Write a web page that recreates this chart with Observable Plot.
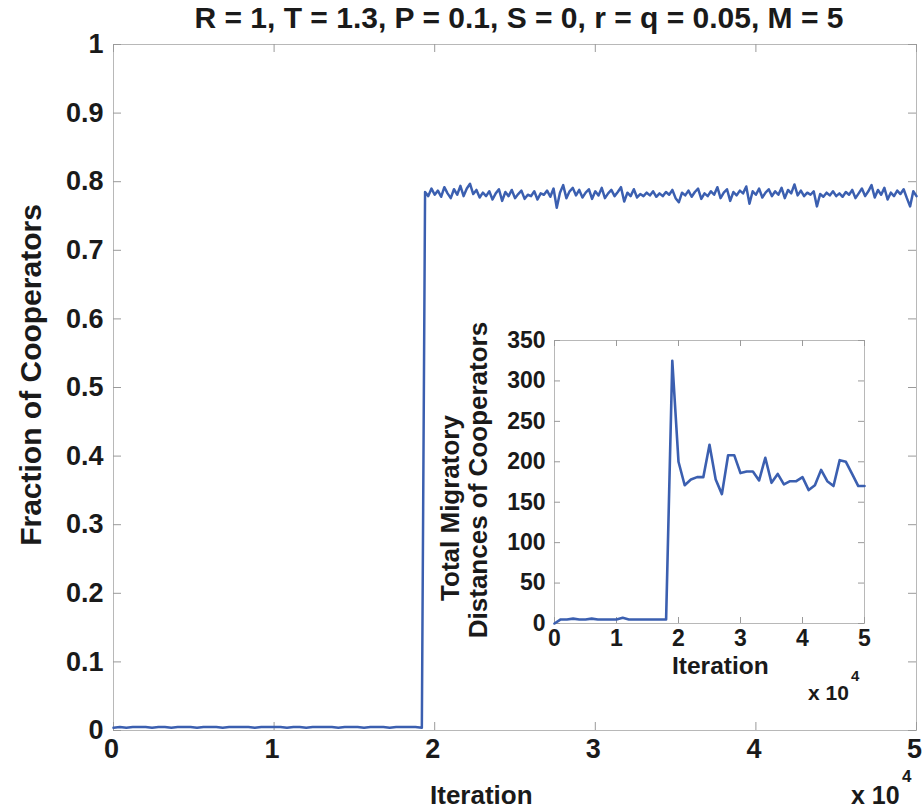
<!DOCTYPE html>
<html><head><meta charset="utf-8">
<script src="https://cdn.jsdelivr.net/npm/d3@7"></script>
<script src="https://cdn.jsdelivr.net/npm/@observablehq/plot@0.6"></script>
<style>
body{margin:0;background:#fff;}
#wrap{position:relative;width:922px;height:811px;font-family:"Liberation Sans",Arial,sans-serif;font-weight:bold;color:#1a1a1a;overflow:hidden;}
#wrap svg{position:absolute;}
.t{position:absolute;white-space:nowrap;line-height:1;}
.rot{transform:translate(-50%,-50%) rotate(-90deg);}
</style></head><body><div id="wrap"></div>
<script>
// ---- data ----
const titleText = "R = 1, T = 1.3, P = 0.1, S = 0, r = q = 0.05, M = 5";
const mainYLabel = "Fraction of Cooperators";
const xLabel = "Iteration";
const insetYLabel1 = "Total Migratory";
const insetYLabel2 = "Distances of Cooperators";

// fraction of cooperators, before the transition (every 400 iterations from 0)
const lowStart = 0, lowStep = 400;
const lowValues = [0.004,0.005,0.004,0.005,0.005,0.005,0.004,0.005,0.005,0.004,
  0.005,0.005,0.005,0.004,0.005,0.005,0.005,0.004,0.005,0.005,
  0.005,0.005,0.004,0.005,0.005,0.005,0.005,0.004,0.005,0.005,
  0.004,0.005,0.005,0.005,0.005,0.004,0.005,0.005,0.005,0.004,
  0.005,0.005,0.005,0.004,0.005,0.005,0.005,0.005,0.004];
// after the transition (every 200 iterations from 19400)
const highStart = 19400, highStep = 200;
const highValues = [
  0.785,0.779,0.790,0.781,0.787,0.778,0.792,0.783,0.776,0.789,
  0.781,0.794,0.779,0.790,0.797,0.782,0.788,0.777,0.784,0.779,
  0.786,0.774,0.783,0.789,0.772,0.785,0.779,0.788,0.776,0.782,
  0.787,0.775,0.781,0.779,0.786,0.774,0.783,0.781,0.787,0.778,
  0.790,0.762,0.784,0.795,0.776,0.786,0.791,0.780,0.788,0.777,
  0.784,0.789,0.775,0.786,0.780,0.791,0.776,0.783,0.788,0.779,
  0.785,0.792,0.771,0.784,0.779,0.789,0.777,0.782,0.779,0.784,
  0.780,0.786,0.778,0.783,0.779,0.785,0.781,0.788,0.776,0.770,
  0.784,0.780,0.787,0.778,0.785,0.790,0.775,0.783,0.779,0.786,
  0.781,0.792,0.776,0.784,0.789,0.772,0.785,0.780,0.787,0.783,
  0.793,0.768,0.786,0.781,0.790,0.777,0.784,0.789,0.779,0.786,
  0.781,0.791,0.776,0.788,0.783,0.796,0.780,0.787,0.779,0.784,
  0.781,0.786,0.764,0.782,0.778,0.784,0.780,0.786,0.779,0.783,
  0.778,0.785,0.781,0.788,0.776,0.783,0.790,0.779,0.786,0.795,
  0.777,0.788,0.781,0.791,0.774,0.784,0.779,0.787,0.782,0.789,
  0.776,0.764,0.786,0.779];
// inset: total migratory distances of cooperators (every 1000 iterations)
const insetStep = 1000;
const insetValues = [0,5,5,6,5,5,6,5,5,5,
  5,7,5,5,5,5,5,5,5,325,
  200,171,178,181,181,221,178,160,208,208,
  186,188,188,177,205,174,185,172,176,176,
  181,165,171,190,176,170,202,200,185,170,170];

const mainYTicks = [0,0.1,0.2,0.3,0.4,0.5,0.6,0.7,0.8,0.9,1];
const mainYTickLabels = ["0","0.1","0.2","0.3","0.4","0.5","0.6","0.7","0.8","0.9","1"];
const xTicks = [0,10000,20000,30000,40000,50000];
const xTickLabels = ["0","1","2","3","4","5"];
const insetYTicks = [0,50,100,150,200,250,300,350];
const insetYTickLabels = ["0","50","100","150","200","250","300","350"];

// ---- build ----
const mainData = [
  ...lowValues.map((v,i)=>({it: lowStart + i*lowStep, v})),
  ...highValues.map((v,i)=>({it: highStart + i*highStep, v}))
];
const insetData = insetValues.map((v,i)=>({it: i*insetStep, v}));

const LINE = "#3b5fb0", FRAME = "#b8b8b8", TICK = "#9a9a9a";
const FONT = '"Liberation Sans", Arial, sans-serif';
const wrap = document.getElementById("wrap");

const W = 922, H = 811, mL = 113, mR = 6, mT = 44, mB = 81;
const fw = W - mL - mR, fh = H - mT - mB;
const main = Plot.plot({
  width: W, height: H, marginLeft: mL, marginRight: mR, marginTop: mT, marginBottom: mB,
  x: {domain: [0, 50000]},
  y: {domain: [0, 1]},
  style: {fontFamily: FONT, fontWeight: "bold", fontSize: "27px", color: "#1a1a1a", background: "transparent", overflow: "visible"},
  marks: [
    Plot.frame({stroke: FRAME}),
    Plot.tickY(mainYTicks, {y: d => d, stroke: TICK, insetRight: fw - 8}),
    Plot.tickY(mainYTicks, {y: d => d, stroke: TICK, insetLeft: fw - 8}),
    Plot.tickX(xTicks, {x: d => d, stroke: TICK, insetTop: fh - 8}),
    Plot.tickX(xTicks, {x: d => d, stroke: TICK, insetBottom: fh - 8}),
    Plot.axisY(mainYTicks, {tickSize: 0, tickPadding: 10, label: null, fontSize: 27,
      tickFormat: d => mainYTickLabels[mainYTicks.indexOf(d)]}),
    Plot.axisX(xTicks, {tickSize: 0, tickPadding: 8, label: null, fontSize: 27, dx: -2,
      tickFormat: d => xTickLabels[xTicks.indexOf(d)]}),
    Plot.line(mainData, {x: "it", y: "v", stroke: LINE, strokeWidth: 2.5})
  ]
});
main.style.left = "0px"; main.style.top = "0px";
wrap.appendChild(main);

// inset
const IX = 430, IY = 310, IW = 460, IH = 400, imL = 124, imR = 26, imT = 30, imB = 87;
const ifw = IW - imL - imR, ifh = IH - imT - imB;
const inset = Plot.plot({
  width: IW, height: IH, marginLeft: imL, marginRight: imR, marginTop: imT, marginBottom: imB,
  x: {domain: [0, 50000]},
  y: {domain: [0, 350]},
  style: {fontFamily: FONT, fontWeight: "bold", fontSize: "23px", color: "#1a1a1a", background: "transparent", overflow: "visible"},
  marks: [
    Plot.frame({stroke: FRAME}),
    Plot.tickY(insetYTicks, {y: d => d, stroke: TICK, insetRight: ifw - 6}),
    Plot.tickY(insetYTicks, {y: d => d, stroke: TICK, insetLeft: ifw - 6}),
    Plot.tickX(xTicks, {x: d => d, stroke: TICK, insetTop: ifh - 6}),
    Plot.tickX(xTicks, {x: d => d, stroke: TICK, insetBottom: ifh - 6}),
    Plot.axisY(insetYTicks, {tickSize: 0, tickPadding: 9, label: null, fontSize: 23,
      tickFormat: d => insetYTickLabels[insetYTicks.indexOf(d)]}),
    Plot.axisX(xTicks, {tickSize: 0, tickPadding: 6, label: null, fontSize: 23,
      tickFormat: d => xTickLabels[xTicks.indexOf(d)]}),
    Plot.line(insetData, {x: "it", y: "v", stroke: LINE, strokeWidth: 2.6})
  ]
});
inset.style.left = IX + "px"; inset.style.top = IY + "px";
wrap.appendChild(inset);

// text
function addText(txt, css, cls) {
  const d = document.createElement("div");
  d.className = "t" + (cls ? " " + cls : "");
  d.innerHTML = txt;
  Object.assign(d.style, css);
  wrap.appendChild(d);
  return d;
}
addText(titleText, {left: "119px", width: "800px", textAlign: "center", top: "3px", fontSize: "30px"});
addText(mainYLabel, {left: "31px", top: "375px", fontSize: "30px"}, "rot");
addText(xLabel, {left: "430px", top: "782px", fontSize: "26px"});
addText("x 10", {left: "851px", top: "783px", fontSize: "25px"});
addText("4", {left: "902px", top: "768px", fontSize: "17px"});
addText(insetYLabel1, {left: "450px", top: "508px", fontSize: "26px"}, "rot");
addText(insetYLabel2, {left: "478px", top: "480px", fontSize: "26px"}, "rot");
addText(xLabel, {left: "672px", top: "654px", fontSize: "24.5px"});
addText("x 10", {left: "808px", top: "682px", fontSize: "21px"});
addText("4", {left: "851px", top: "668px", fontSize: "15px"});
</script></body></html>
